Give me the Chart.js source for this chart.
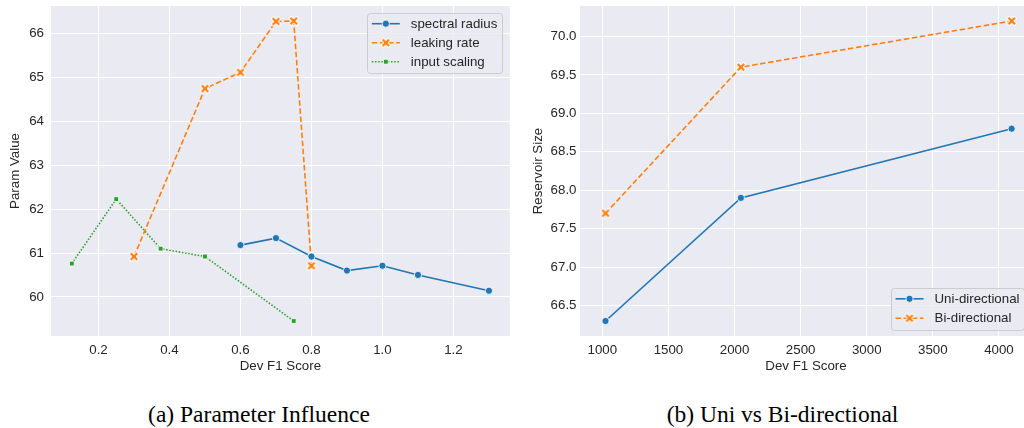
<!DOCTYPE html>
<html>
<head>
<meta charset="utf-8">
<script src="https://cdn.jsdelivr.net/npm/chart.js@4/dist/chart.umd.min.js"></script>
<style>
  html, body { margin: 0; padding: 0; background: #fff; width: 1024px; height: 428px; overflow: hidden; position: relative; }
  canvas { position: absolute; top: 0; }
  #paramChart { left: 0; }
  #dirChart { left: 520px; }
  .caption {
    position: absolute; top: 402px; width: 400px; text-align: center;
    font-family: 'Liberation Serif', 'Times New Roman', serif; font-size: 23.5px; line-height: 24px;
    color: #000; white-space: nowrap;
  }
</style>
</head>
<body>
<canvas id="paramChart" width="520" height="385"></canvas>
<canvas id="dirChart" width="520" height="385"></canvas>
<div class="caption" style="left:59px">(a) Parameter Influence</div>
<div class="caption" style="left:582.5px">(b) Uni vs Bi-directional</div>
<script>
// ---- (a) parameter influence ----
const spectralX = [0.6, 0.7, 0.8, 0.9, 1.0, 1.1, 1.3];
const spectralY = [61.18, 61.34, 60.92, 60.60, 60.71, 60.50, 60.14];
const leakingX  = [0.3, 0.5, 0.6, 0.7, 0.75, 0.8];
const leakingY  = [60.92, 64.75, 65.12, 66.28, 66.29, 60.71];
const scalingX  = [0.125, 0.25, 0.375, 0.5, 0.75];
const scalingY  = [60.76, 62.23, 61.10, 60.92, 59.45];
const paramXTicks = [0.2, 0.4, 0.6, 0.8, 1.0, 1.2];
const paramYTicks = [60, 61, 62, 63, 64, 65, 66];

// ---- (b) uni vs bi-directional ----
const reservoirSizes = [1024, 2048, 4096];
const uniScores = [66.3, 67.9, 68.8];
const biScores  = [67.7, 69.6, 70.2];
const dirXTicks = [1000, 1500, 2000, 2500, 3000, 3500, 4000];
const dirYTicks = [66.5, 67.0, 67.5, 68.0, 68.5, 69.0, 69.5, 70.0];

const BLUE = '#1f77b4', ORANGE = '#ff7f0e', GREEN = '#2ca02c';
const TEXT = '#262626';
const SANS = "'Liberation Sans', Arial, sans-serif";
const FS = 13.3;

Chart.defaults.font.family = SANS;
Chart.defaults.font.size = FS;
Chart.defaults.color = TEXT;

const pairs = (xs, ys) => xs.map((x, i) => ({ x, y: ys[i] }));

// filled "X" marker with a thin white edge
function xMarker(color) {
  const c = document.createElement('canvas');
  c.width = 12; c.height = 12;
  const g = c.getContext('2d');
  const m = 6, r = 3.3;
  const cross = (len) => {
    g.beginPath();
    g.moveTo(m - len, m - len); g.lineTo(m + len, m + len);
    g.moveTo(m - len, m + len); g.lineTo(m + len, m - len);
  };
  g.lineCap = 'butt';
  g.strokeStyle = '#fff'; g.lineWidth = 3.9; cross(r + 0.7); g.stroke();
  g.strokeStyle = color; g.lineWidth = 2.2; cross(r); g.stroke();
  return c;
}
const X_ORANGE = xMarker(ORANGE);

function series(label, data, color, style) {
  const base = {
    label, data,
    borderColor: color, backgroundColor: color,
    borderWidth: 1.6, tension: 0, fill: false,
    pointBackgroundColor: color, pointBorderColor: '#fff', pointBorderWidth: 0.8,
    pointRadius: 3.6, pointHoverRadius: 3.6
  };
  if (style === 'dash') Object.assign(base, { borderDash: [5.5, 2.6], pointStyle: X_ORANGE });
  else if (style === 'dot') Object.assign(base, { borderDash: [1.5, 1.7], pointStyle: 'rect', pointRadius: 3.4 });
  else Object.assign(base, { pointStyle: 'circle' });
  return base;
}

// plot background in seaborn "darkgrid" style
const plotBackground = {
  id: 'plotBackground',
  beforeDraw(chart) {
    const { ctx, chartArea: a } = chart;
    ctx.save();
    ctx.fillStyle = '#eaeaf2';
    ctx.fillRect(a.left, a.top, a.right - a.left, a.bottom - a.top);
    ctx.restore();
  }
};

// legend drawn inside a corner of the plot area, with line + marker handles
const cornerLegend = {
  id: 'cornerLegend',
  afterDatasetsDraw(chart, args, o) {
    const { ctx, chartArea: a } = chart;
    const items = chart.data.datasets;
    ctx.save();
    ctx.font = `${FS}px ${SANS}`;
    const textW = Math.max(...items.map(d => ctx.measureText(d.label).width));
    const w = o.padX + o.handle + o.gap + textW + o.padX;
    const h = o.padY * 2 + (items.length - 1) * o.row;
    const x0 = a.right - o.marginX - w;
    const y0 = o.corner === 'top' ? a.top + o.marginY : a.bottom - o.marginY - h;
    ctx.beginPath();
    ctx.roundRect(Math.round(x0) + 0.5, Math.round(y0) + 0.5, Math.round(w), Math.round(h), 3);
    ctx.fillStyle = 'rgba(234,234,242,0.8)';
    ctx.fill();
    ctx.strokeStyle = '#cccccc';
    ctx.lineWidth = 1;
    ctx.stroke();
    items.forEach((d, i) => {
      const cy = y0 + o.padY + i * o.row;
      const hx = x0 + o.padX;
      ctx.save();
      ctx.setLineDash(d.borderDash || []);
      ctx.strokeStyle = d.borderColor;
      ctx.lineWidth = d.borderWidth;
      ctx.beginPath();
      ctx.moveTo(hx, cy); ctx.lineTo(hx + o.handle, cy);
      ctx.stroke();
      ctx.restore();
      ctx.fillStyle = d.pointBackgroundColor;
      ctx.strokeStyle = d.pointBorderColor;
      ctx.lineWidth = d.pointBorderWidth;
      Chart.helpers.drawPoint(ctx, {
        pointStyle: d.pointStyle, rotation: 0,
        radius: d.pointRadius, borderWidth: d.pointBorderWidth
      }, hx + o.handle / 2, cy);
      ctx.fillStyle = TEXT;
      ctx.textAlign = 'left';
      ctx.textBaseline = 'middle';
      ctx.fillText(d.label, hx + o.handle + o.gap, cy + 0.5);
    });
    ctx.restore();
  }
};

// fixed axis band sizes, no extra room reserved for overhanging tick labels
function fixSize(prop, size) {
  return s => {
    s[prop] = size;
    s.paddingTop = s.paddingBottom = s.paddingLeft = s.paddingRight = 0;
  };
}

function axes(cfg) {
  const grid = { color: '#ffffff', lineWidth: 1, drawTicks: false };
  const useTicks = values => scale => { scale.ticks = values.map(value => ({ value })); };
  return {
    x: {
      type: 'linear', min: cfg.xMin, max: cfg.xMax,
      grid, border: { display: false },
      afterBuildTicks: useTicks(cfg.xTicks),
      ticks: { autoSkip: false, padding: 6, maxRotation: 0, color: TEXT, callback: cfg.xFmt },
      title: { display: true, text: 'Dev F1 Score', color: TEXT, padding: { top: 0, bottom: 10.3 } },
      afterFit: fixSize('height', 49)
    },
    y: {
      type: 'linear', min: cfg.yMin, max: cfg.yMax,
      grid, border: { display: false },
      afterBuildTicks: useTicks(cfg.yTicks),
      ticks: { autoSkip: false, padding: cfg.yPad, color: TEXT, callback: cfg.yFmt },
      title: { display: true, text: cfg.yTitle, color: TEXT, padding: { top: cfg.yTitlePad, bottom: 0 } },
      afterFit: fixSize('width', cfg.yWidth)
    }
  };
}

new Chart(document.getElementById('paramChart'), {
  type: 'line',
  data: {
    datasets: [
      series('spectral radius', pairs(spectralX, spectralY), BLUE, 'solid'),
      series('leaking rate', pairs(leakingX, leakingY), ORANGE, 'dash'),
      series('input scaling', pairs(scalingX, scalingY), GREEN, 'dot')
    ]
  },
  options: {
    responsive: false, animation: false, devicePixelRatio: 1,
    layout: { padding: { top: 6, right: 10.2, left: 0, bottom: 0 } },
    plugins: {
      legend: { display: false }, tooltip: { enabled: false },
      cornerLegend: { corner: 'top', marginX: 7.5, marginY: 6.7, padX: 5, padY: 11, handle: 28, gap: 11, row: 19 }
    },
    scales: axes({
      xMin: 0.06625, xMax: 1.35875, xTicks: paramXTicks, xFmt: v => Number(v).toFixed(1),
      yMin: 59.108, yMax: 66.632, yTicks: paramYTicks, yFmt: v => String(v),
      yTitle: 'Param Value', yWidth: 51, yPad: 7, yTitlePad: 7
    })
  },
  plugins: [plotBackground, cornerLegend]
});

new Chart(document.getElementById('dirChart'), {
  type: 'line',
  data: {
    datasets: [
      series('Uni-directional', pairs(reservoirSizes, uniScores), BLUE, 'solid'),
      series('Bi-directional', pairs(reservoirSizes, biScores), ORANGE, 'dash')
    ]
  },
  options: {
    responsive: false, animation: false, devicePixelRatio: 1,
    layout: { padding: { top: 6, right: 8, left: 0, bottom: 0 } },
    plugins: {
      legend: { display: false }, tooltip: { enabled: false },
      cornerLegend: { corner: 'bottom', marginX: 8, marginY: 6.7, padX: 4.5, padY: 11, handle: 28, gap: 11, row: 19.5 }
    },
    scales: axes({
      xMin: 831, xMax: 4250, xTicks: dirXTicks, xFmt: v => String(v),
      yMin: 66.105, yMax: 70.395, yTicks: dirYTicks, yFmt: v => Number(v).toFixed(1),
      yTitle: 'Reservoir Size', yWidth: 60, yPad: 3.5, yTitlePad: 10.5
    })
  },
  plugins: [plotBackground, cornerLegend]
});
</script>
</body>
</html>
